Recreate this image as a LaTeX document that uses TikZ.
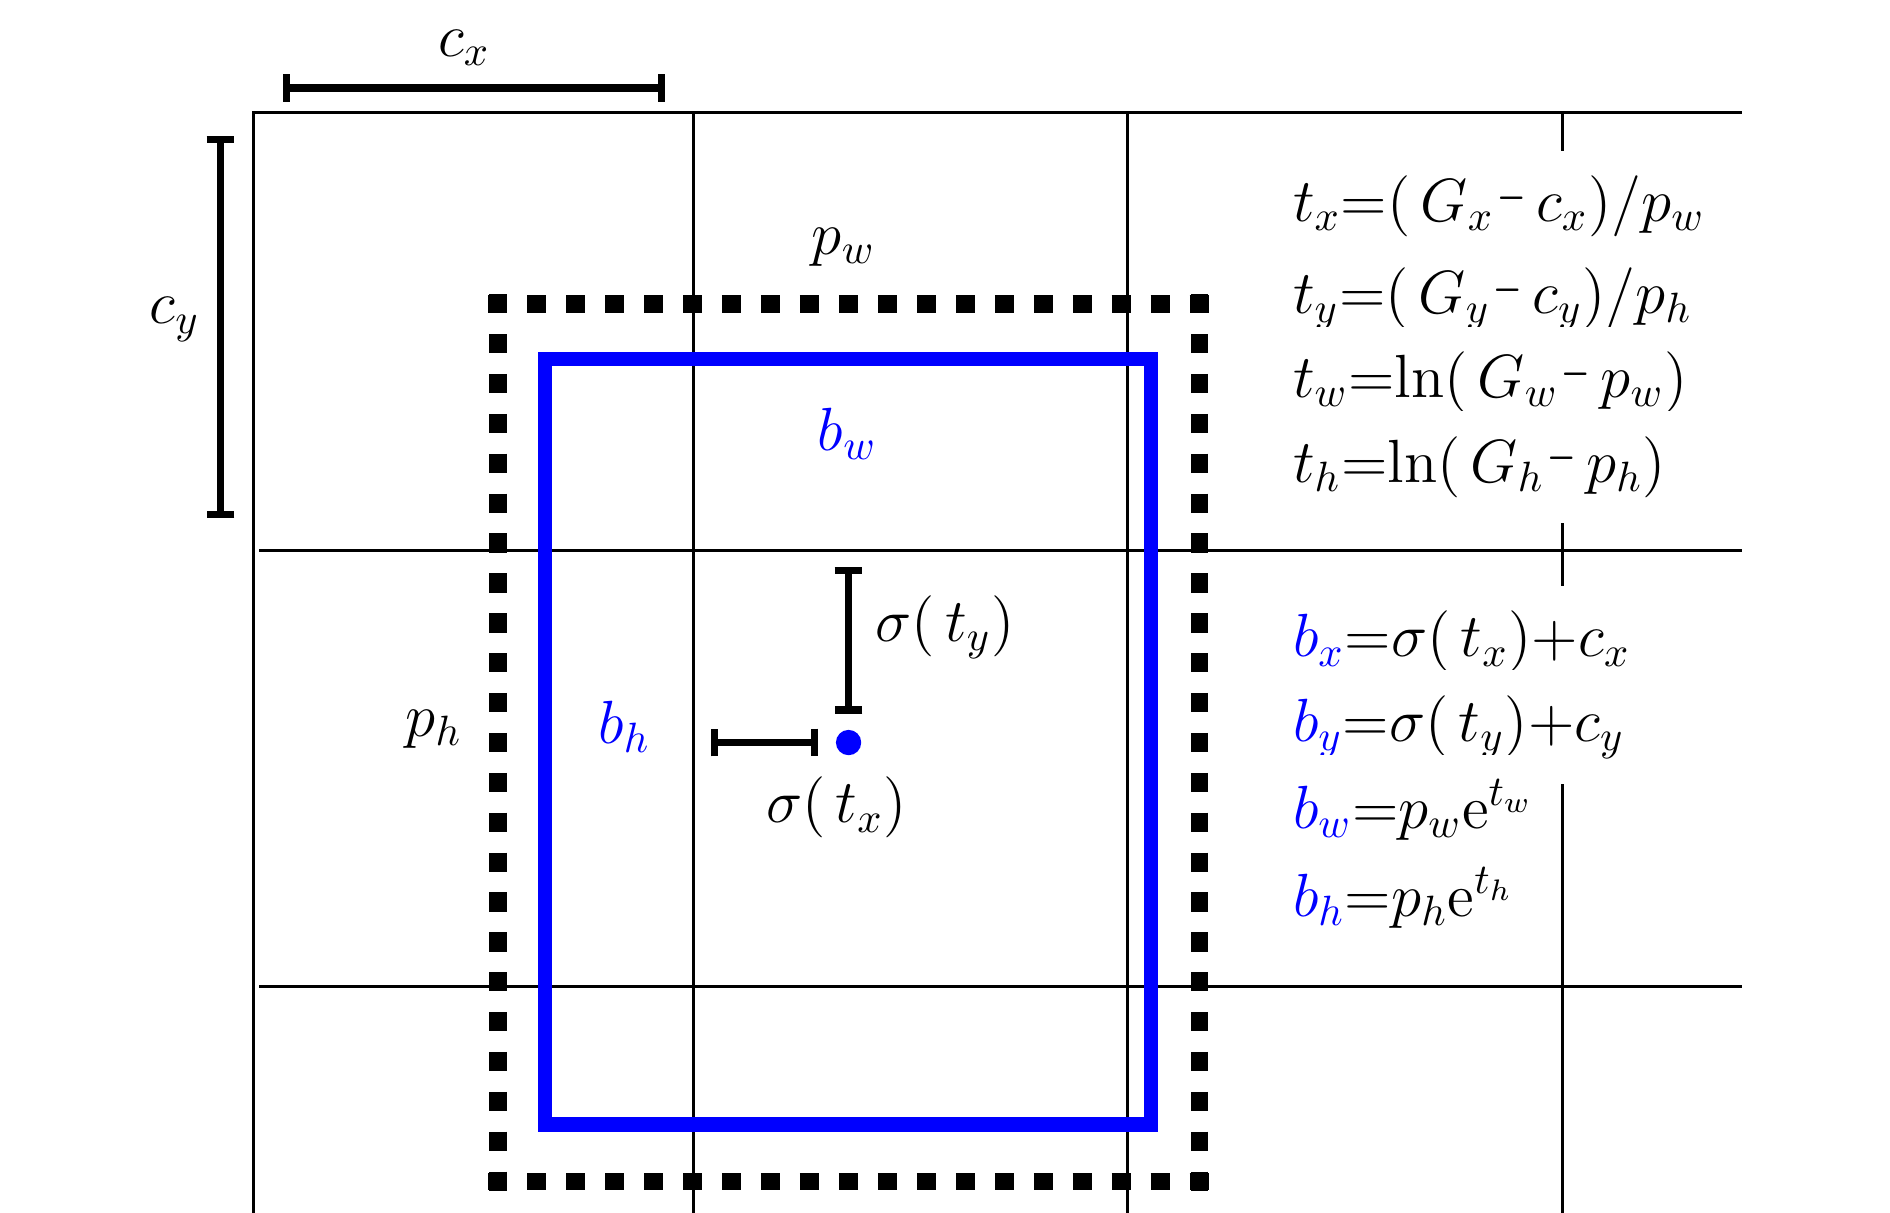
\documentclass[tikz,border=0pt]{standalone}
\usepackage{amsmath,amssymb}
\usepackage{xcolor}
\usepackage{tikz}
\usetikzlibrary{calc,arrows.meta}
\definecolor{predblue}{HTML}{0000FF}
\newcommand{\sminus}{\mkern1mu\raisebox{0.14em}{\scalebox{0.6}[1]{$-$}}\mkern3mu}
\tikzset{
  gridline/.style={draw=black, line width=0.7pt},
  anchorside/.style={draw=black, line width=0.145cm, shorten <=-0.08cm, shorten >=-0.08cm,
    dash pattern=on 0.16cm off #1},
  predbox/.style={draw=predblue, line width=3.4pt},
  dimline/.style={draw=black, line width=1.7pt, {Bar[width=0.23cm]}-{Bar[width=0.23cm]}},
  pt/.style={circle, fill=predblue, inner sep=0pt, minimum size=0.21cm},
  lab/.style={text=black},
  labb/.style={text=predblue},
  eqn/.style={fill=white, anchor=base west, inner xsep=2pt, inner ysep=6pt},
  every node/.style={font=\fontsize{14}{17}\selectfont}
}

\begin{document}
\begin{tikzpicture}
  \useasboundingbox (0,0) rectangle (15.68,-10.06);

  % grid cells
  \draw[gridline] (2.10,-10.06) -- (2.10,-0.93) -- (14.45,-0.93);
  \draw[gridline] (5.75,-0.93) -- (5.75,-10.06);
  \draw[gridline] (9.35,-0.93) -- (9.35,-10.06);
  \draw[gridline] (12.96,-0.93) -- (12.96,-10.06);
  \draw[gridline] (2.15,-4.57) -- (14.45,-4.57);
  \draw[gridline] (2.15,-8.18) -- (14.45,-8.18);

  % cell offsets
  \coordinate (cxL) at (2.35,-0.73);
  \coordinate (cxR) at (5.52,-0.73);
  \coordinate (cyT) at (1.83,-1.13);
  \coordinate (cyB) at (1.83,-4.30);
  \draw[dimline] (cxL) -- (cxR);
  \draw[dimline] (cyT) -- (cyB);
  \node[lab] (cx) at (3.85,-0.40) {$c_x$};
  \node[lab] (cy) at (1.45,-2.65) {$c_y$};

  % prior box (dotted, one side at a time) and predicted box
  \coordinate (O) at (7.04,-6.16);
  \coordinate (PA) at (4.13,-2.52);
  \coordinate (PB) at (9.95,-2.52);
  \coordinate (PC) at (9.95,-9.80);
  \coordinate (PD) at (4.13,-9.80);
  \draw[anchorside=0.1633cm] (PA) -- (PB);
  \draw[anchorside=0.1709cm] (PB) -- (PC);
  \draw[anchorside=0.1633cm] (PD) -- (PC);
  \draw[anchorside=0.1709cm] (PA) -- (PD);
  \draw[predbox] (4.52,-2.98) rectangle (9.55,-9.33);
  \node[lab] (pw) at (7.00,-2.05) {$p_w$};
  \node[labb] (bw) at (7.03,-3.60) {$b_w$};
  \node[lab] (ph) at (3.60,-6.05) {$p_h$};
  \node[labb] (bh) at (5.18,-6.03) {$b_h$};

  % centre offsets
  \coordinate (syT) at (7.04,-4.70);
  \coordinate (syB) at (7.04,-5.92);
  \coordinate (sxL) at (5.90,-6.16);
  \coordinate (sxR) at (6.79,-6.16);
  \draw[dimline] (syT) -- (syB);
  \draw[dimline] (sxL) -- (sxR);
  \node[pt] (ctr) at (O) {};
  \node[lab] (sty) at (7.84,-5.20) {$\sigma(\,t_y)$};
  \node[lab] (stx) at (6.94,-6.70) {$\sigma(\,t_x)$};

  % formulas
  \node[eqn] (tx) at (10.65,-1.84) {$t_x{=}(\,G_x\sminus c_x)/p_w$};
  \node[eqn] (ty) at (10.65,-2.60) {$t_y{=}(\,G_y\sminus c_y)/p_h$};
  \node[eqn] (tw) at (10.65,-3.30) {$t_w{=}\mathrm{ln}(\,G_w\sminus p_w)$};
  \node[eqn] (th) at (10.65,-4.00) {$t_h{=}\mathrm{ln}(\,G_h\sminus p_h)$};
  \node[eqn] (bxeq) at (10.65,-5.45) {$\textcolor{predblue}{b_x}{=}\sigma(\,t_x){+}c_x$};
  \node[eqn] (byeq) at (10.65,-6.15) {$\textcolor{predblue}{b_y}{=}\sigma(\,t_y){+}c_y$};
  \node[eqn] (bweq) at (10.65,-6.87) {$\textcolor{predblue}{b_w}{=}p_w\mathrm{e}^{t_w}$};
  \node[eqn] (bheq) at (10.65,-7.60) {$\textcolor{predblue}{b_h}{=}p_h\mathrm{e}^{t_h}$};
\end{tikzpicture}
\end{document}
